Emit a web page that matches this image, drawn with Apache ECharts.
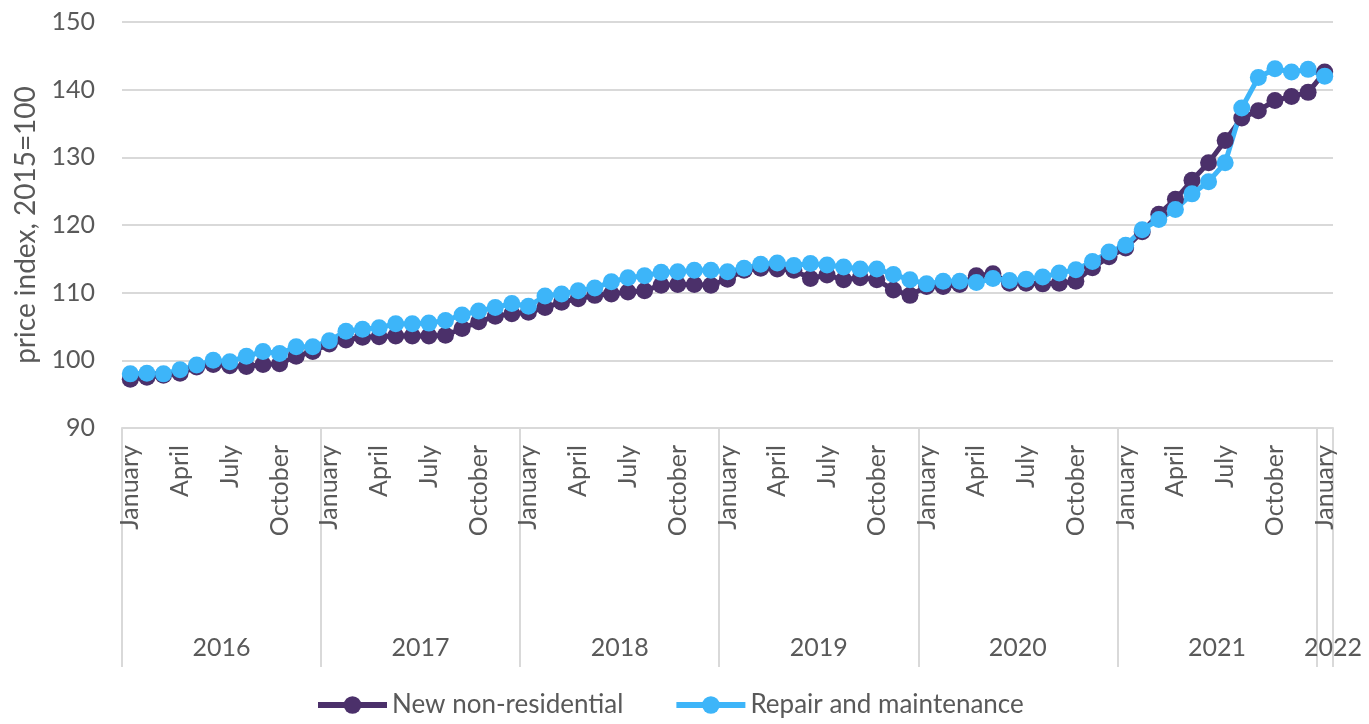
<!DOCTYPE html>
<html>
<head>
<meta charset="utf-8">
<script src="https://cdn.jsdelivr.net/npm/echarts@6/dist/echarts.min.js"></script>
<style>
  html, body { margin: 0; padding: 0; background: #fff; }
  #charts { width: 1369px; height: 724px; }
</style>
</head>
<body>
<div id="charts"></div>
<script>
// Jan 2016 .. Jan 2022
var years = ['2016', '2017', '2018', '2019', '2020', '2021', '2022'];
var monthNames = ['January', 'February', 'March', 'April', 'May', 'June',
                  'July', 'August', 'September', 'October', 'November', 'December'];

var newNonResidential = [
    97.2, 97.5, 97.8, 98.1, 99.0, 99.4, 99.2, 99.1, 99.4, 99.5, 100.6, 101.3,
    102.4, 103.0, 103.4, 103.5, 103.6, 103.6, 103.6, 103.7, 104.7, 105.7, 106.5, 106.9,
    107.1, 107.8, 108.6, 109.1, 109.6, 109.8, 110.1, 110.3, 111.1, 111.2, 111.2, 111.1,
    112.0, 113.3, 113.6, 113.5, 113.3, 112.1, 112.6, 111.9, 112.2, 111.9, 110.4, 109.6,
    110.9, 110.9, 111.2, 112.5, 112.8, 111.4, 111.4, 111.3, 111.4, 111.7, 113.7, 115.3,
    116.6, 119.0, 121.6, 123.8, 126.6, 129.2, 132.5, 135.8, 136.9, 138.4, 139.0, 139.6,
    142.6
];
var repairMaintenance = [
    98.0, 98.1, 98.0, 98.6, 99.3, 100.0, 99.8, 100.6, 101.3, 101.0, 102.0, 102.0,
    102.9, 104.3, 104.6, 104.8, 105.4, 105.4, 105.5, 105.9, 106.7, 107.3, 107.8, 108.4,
    108.0, 109.5, 109.8, 110.3, 110.7, 111.6, 112.2, 112.5, 113.0, 113.1, 113.3, 113.3,
    113.1, 113.6, 114.2, 114.4, 114.0, 114.3, 114.1, 113.8, 113.5, 113.5, 112.7, 111.9,
    111.3, 111.7, 111.7, 111.5, 112.1, 111.8, 112.0, 112.3, 112.9, 113.4, 114.6, 116.0,
    117.0, 119.3, 120.8, 122.3, 124.6, 126.4, 129.2, 137.3, 141.8, 143.1, 142.6, 143.0,
    142.0
];

// month category for each point
var months = [];
for (var i = 0; i < newNonResidential.length; i++) {
    months.push(monthNames[i % 12]);
}
var textColor = '#595959';
var fontFamily = 'Lato';

var myChart = echarts.init(document.getElementById('charts'));
option = {
    animation: false,
    textStyle: { fontFamily: fontFamily },
    grid: { left: 122, right: 36, top: 22, bottom: 296 },
    legend: {
        bottom: 1,
        left: 310,
        itemWidth: 69,
        itemHeight: 22,
        itemGap: 50,
        lineStyle: { width: 6 },
        textStyle: { color: textColor, fontSize: 26, fontFamily: fontFamily },
        data: ['New non-residential', 'Repair and maintenance']
    },
    xAxis: [
        {
            type: 'category',
            data: months,
            boundaryGap: true,
            axisLine: { show: true, lineStyle: { color: '#D9D9D9', width: 2 } },
            axisTick: {
                show: true,
                length: 239,
                interval: function (index) { return index % 12 === 0; },
                lineStyle: { color: '#D9D9D9', width: 2 }
            },
            axisLabel: {
                rotate: 90,
                margin: 17,
                interval: function (index) { return index % 3 === 0; },
                color: textColor,
                fontSize: 25,
                fontFamily: fontFamily
            }
        },
        {
            // year row under the months
            type: 'value',
            position: 'bottom',
            min: 0,
            max: 73,
            interval: 1,
            axisLine: { show: false },
            axisTick: { show: false },
            splitLine: { show: false },
            axisLabel: {
                margin: 207,
                color: textColor,
                fontSize: 25,
                fontFamily: fontFamily,
                showMinLabel: true,
                showMaxLabel: true,
                formatter: function (v) {
                    if (v === 73) return years[years.length - 1];
                    if (v % 12 === 6) return years[(v - 6) / 12];
                    return '';
                }
            }
        }
    ],
    yAxis: {
        type: 'value',
        min: 90,
        max: 150,
        interval: 10,
        name: 'price index, 2015=100',
        nameLocation: 'middle',
        nameGap: 82,
        nameTextStyle: { color: textColor, fontSize: 28, fontFamily: fontFamily },
        axisLine: { show: false },
        axisTick: { show: false },
        axisLabel: { color: textColor, fontSize: 25, margin: 27, fontFamily: fontFamily },
        splitLine: { lineStyle: { color: '#D9D9D9', width: 2 } }
    },
    series: [
        {
            name: 'New non-residential',
            type: 'line',
            data: newNonResidential,
            symbol: 'circle',
            symbolSize: 17,
            showAllSymbol: true,
            lineStyle: { color: '#4B306A', width: 5 },
            itemStyle: { color: '#4B306A' }
        },
        {
            name: 'Repair and maintenance',
            type: 'line',
            data: repairMaintenance,
            symbol: 'circle',
            symbolSize: 17,
            showAllSymbol: true,
            lineStyle: { color: '#3DB5F9', width: 5 },
            itemStyle: { color: '#3DB5F9' }
        }
    ]
};

myChart.setOption(option);
</script>
</body>
</html>
